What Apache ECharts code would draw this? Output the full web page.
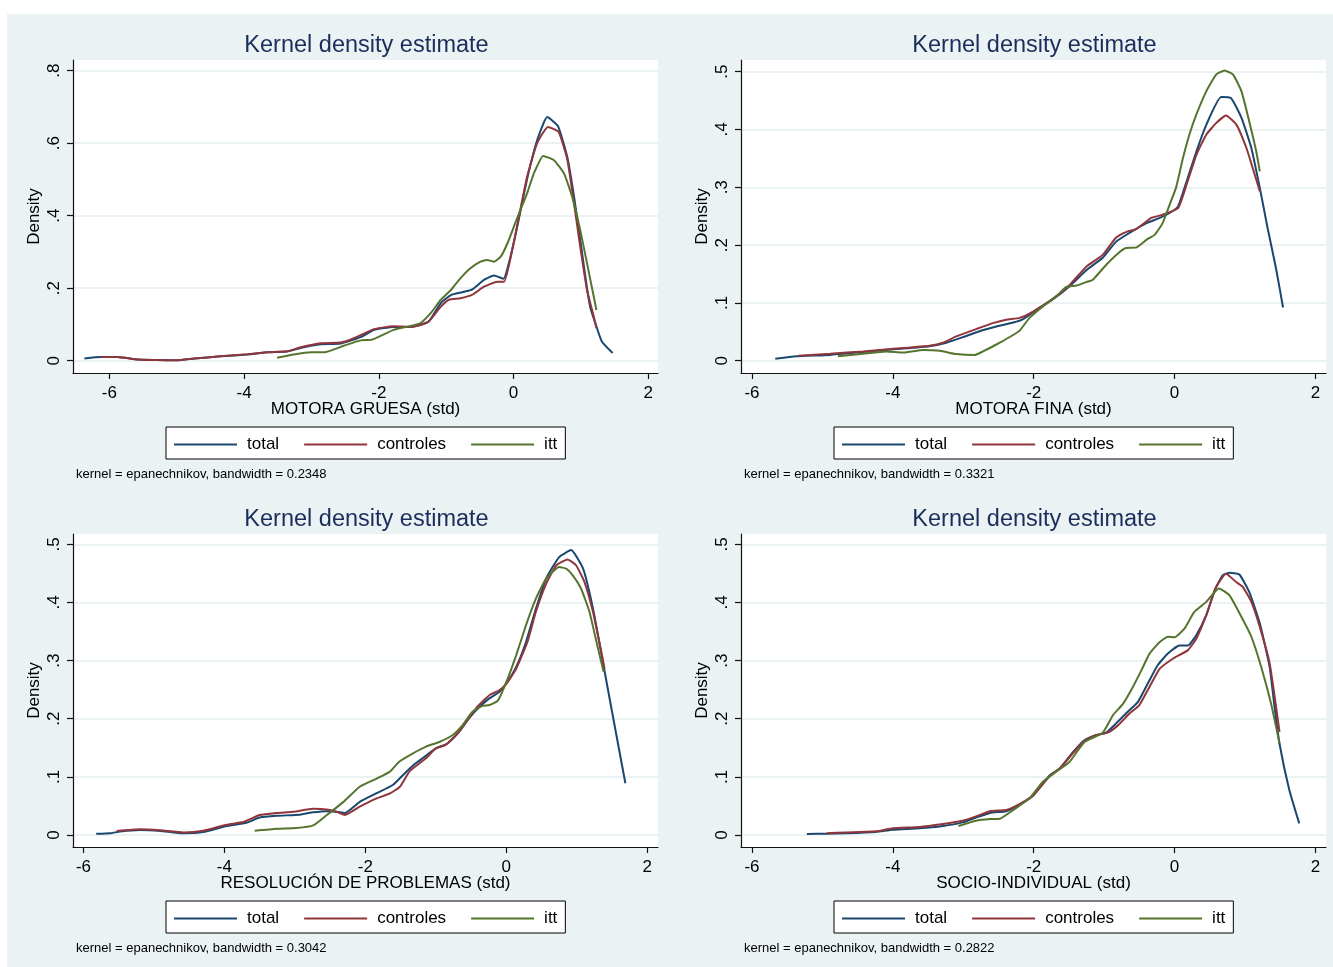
<!DOCTYPE html>
<html><head><meta charset="utf-8">
<script src="https://cdn.jsdelivr.net/npm/echarts@6/dist/echarts.min.js"></script>
<style>
html,body{margin:0;padding:0;background:#fff}
#bg{position:absolute;left:7px;top:14px;width:1326px;height:953px;background:#EAF2F3}
#c{position:absolute;left:0;top:0;width:1333px;height:967px}
</style>
</head><body><div id="bg"></div><div id="c"></div>
<script>
const seriesNames = ['total', 'controles', 'itt'];
const mainTitle = 'Kernel density estimate';
const xTitles = ['MOTORA GRUESA (std)', 'MOTORA FINA (std)', 'RESOLUCIÓN DE PROBLEMAS (std)', 'SOCIO-INDIVIDUAL (std)'];
const notes = ['kernel = epanechnikov, bandwidth = 0.2348', 'kernel = epanechnikov, bandwidth = 0.3321',
               'kernel = epanechnikov, bandwidth = 0.3042', 'kernel = epanechnikov, bandwidth = 0.2822'];
const xTicks = [-6, -4, -2, 0, 2];
const yTicksGruesa = [0, 0.2, 0.4, 0.6, 0.8];
const yTicksOther = [0, 0.1, 0.2, 0.3, 0.4, 0.5];

// MOTORA GRUESA
const gruesaTotal = [[-6.37,0.006],[-6.13,0.010],[-5.88,0.010],[-5.58,0.003],[-5.3,0.002],[-4.99,0.001],[-4.74,0.006],[-4.35,0.012],[-3.95,0.017],[-3.65,0.023],[-3.36,0.025],[-3.16,0.035],[-2.86,0.045],[-2.57,0.047],[-2.27,0.065],[-2.07,0.085],[-1.78,0.093],[-1.53,0.093],[-1.43,0.096],[-1.26,0.108],[-1.08,0.159],[-0.93,0.181],[-0.76,0.189],[-0.61,0.197],[-0.44,0.223],[-0.29,0.235],[-0.15,0.226],[-0.045,0.287],[0.055,0.37],[0.20,0.50],[0.35,0.608],[0.50,0.672],[0.66,0.647],[0.80,0.56],[0.90,0.45],[1.00,0.32],[1.09,0.20],[1.14,0.146],[1.22,0.10],[1.31,0.053],[1.47,0.021]];
const gruesaControles = [[-6.13,0.010],[-5.88,0.010],[-5.58,0.003],[-5.3,0.002],[-4.99,0.001],[-4.74,0.006],[-4.35,0.012],[-3.95,0.018],[-3.65,0.023],[-3.36,0.026],[-3.16,0.037],[-2.86,0.048],[-2.57,0.050],[-2.37,0.062],[-2.07,0.087],[-1.78,0.095],[-1.53,0.093],[-1.43,0.096],[-1.26,0.108],[-1.08,0.149],[-0.96,0.168],[-0.79,0.172],[-0.61,0.182],[-0.44,0.204],[-0.24,0.218],[-0.14,0.218],[-0.02,0.305],[0.08,0.397],[0.20,0.507],[0.35,0.60],[0.51,0.645],[0.67,0.631],[0.80,0.553],[0.89,0.443],[0.99,0.314],[1.09,0.195],[1.19,0.122],[1.23,0.09]];
const gruesaItt = [[-3.51,0.008],[-3.26,0.017],[-3.01,0.023],[-2.81,0.023],[-2.52,0.041],[-2.27,0.056],[-2.10,0.058],[-1.78,0.085],[-1.53,0.096],[-1.38,0.104],[-1.23,0.131],[-1.08,0.168],[-0.93,0.195],[-0.79,0.227],[-0.64,0.255],[-0.49,0.273],[-0.39,0.278],[-0.29,0.273],[-0.19,0.287],[-0.09,0.324],[0.005,0.37],[0.08,0.406],[0.20,0.461],[0.30,0.516],[0.44,0.565],[0.60,0.553],[0.75,0.516],[0.87,0.452],[0.99,0.36],[1.09,0.269],[1.23,0.14]];

// MOTORA FINA
const finaTotal = [[-5.67,0.0035],[-5.37,0.0075],[-4.89,0.010],[-4.42,0.015],[-3.95,0.020],[-3.48,0.025],[-3.24,0.031],[-3.00,0.041],[-2.77,0.051],[-2.53,0.059],[-2.29,0.066],[-2.15,0.072],[-1.96,0.088],[-1.73,0.106],[-1.49,0.129],[-1.25,0.157],[-1.02,0.178],[-0.83,0.206],[-0.64,0.221],[-0.40,0.238],[-0.21,0.247],[-0.07,0.2555],[0.05,0.267],[0.17,0.310],[0.31,0.362],[0.45,0.408],[0.66,0.456],[0.80,0.4545],[0.95,0.42],[1.09,0.368],[1.21,0.299],[1.32,0.23],[1.44,0.16],[1.54,0.092]];
const finaControles = [[-5.34,0.0087],[-4.89,0.012],[-4.42,0.016],[-3.95,0.021],[-3.48,0.026],[-3.29,0.031],[-3.10,0.042],[-2.81,0.055],[-2.58,0.065],[-2.39,0.071],[-2.20,0.074],[-2.01,0.085],[-1.73,0.107],[-1.49,0.131],[-1.25,0.163],[-1.02,0.183],[-0.83,0.213],[-0.69,0.2225],[-0.54,0.228],[-0.33,0.247],[-0.17,0.2525],[0.05,0.264],[0.17,0.3045],[0.31,0.356],[0.45,0.391],[0.59,0.411],[0.73,0.424],[0.88,0.408],[1.02,0.368],[1.11,0.333],[1.21,0.293]];
const finaItt = [[-4.78,0.0075],[-4.42,0.012],[-4.09,0.016],[-3.85,0.014],[-3.57,0.0185],[-3.33,0.017],[-3.10,0.0115],[-2.84,0.0098],[-2.72,0.016],[-2.53,0.028],[-2.34,0.041],[-2.20,0.052],[-2.06,0.074],[-1.87,0.094],[-1.68,0.111],[-1.54,0.1275],[-1.39,0.130],[-1.23,0.137],[-1.16,0.140],[-0.97,0.166],[-0.80,0.186],[-0.69,0.195],[-0.54,0.196],[-0.40,0.209],[-0.28,0.218],[-0.17,0.238],[-0.07,0.27],[0.02,0.299],[0.12,0.351],[0.21,0.391],[0.31,0.426],[0.45,0.466],[0.59,0.495],[0.71,0.502],[0.83,0.495],[0.95,0.466],[1.06,0.414],[1.16,0.362],[1.21,0.3275]];

// RESOLUCION DE PROBLEMAS
const resolTotal = [[-5.82,0.002],[-5.62,0.003],[-5.48,0.006],[-5.20,0.0086],[-4.91,0.007],[-4.58,0.003],[-4.30,0.005],[-3.97,0.0155],[-3.69,0.021],[-3.50,0.030],[-3.26,0.033],[-2.93,0.035],[-2.74,0.039],[-2.55,0.041],[-2.41,0.040],[-2.29,0.038],[-2.08,0.057],[-1.84,0.072],[-1.61,0.086],[-1.45,0.105],[-1.30,0.122],[-1.19,0.132],[-1.00,0.149],[-0.835,0.1575],[-0.67,0.1775],[-0.53,0.2005],[-0.38,0.2205],[-0.24,0.235],[-0.10,0.246],[0.0,0.2605],[0.14,0.289],[0.28,0.332],[0.42,0.389],[0.565,0.441],[0.75,0.478],[0.92,0.49],[1.09,0.458],[1.23,0.3895],[1.37,0.298],[1.51,0.206],[1.69,0.089]];
const resolControles = [[-5.53,0.0069],[-5.20,0.0098],[-4.91,0.008],[-4.58,0.0045],[-4.30,0.0074],[-3.97,0.0177],[-3.73,0.0223],[-3.50,0.0344],[-3.26,0.038],[-3.02,0.040],[-2.74,0.045],[-2.55,0.044],[-2.41,0.040],[-2.29,0.0344],[-2.08,0.0487],[-1.84,0.063],[-1.65,0.0716],[-1.51,0.083],[-1.37,0.110],[-1.14,0.132],[-1.00,0.149],[-0.86,0.155],[-0.67,0.1775],[-0.43,0.218],[-0.24,0.2405],[-0.10,0.249],[0.0,0.26],[0.14,0.286],[0.30,0.332],[0.42,0.384],[0.565,0.432],[0.71,0.464],[0.87,0.474],[0.99,0.464],[1.11,0.435],[1.23,0.384],[1.32,0.332],[1.395,0.286]];
const resolItt = [[-3.57,0.0074],[-3.26,0.0109],[-2.98,0.012],[-2.74,0.0166],[-2.55,0.034],[-2.31,0.057],[-2.08,0.083],[-1.84,0.097],[-1.65,0.109],[-1.52,0.126],[-1.33,0.140],[-1.14,0.152],[-0.95,0.160],[-0.76,0.172],[-0.62,0.189],[-0.48,0.212],[-0.34,0.222],[-0.24,0.2235],[-0.12,0.231],[0.0,0.263],[0.14,0.309],[0.28,0.361],[0.42,0.4065],[0.565,0.441],[0.75,0.461],[0.85,0.458],[0.94,0.447],[1.06,0.424],[1.18,0.384],[1.28,0.332],[1.38,0.281]];

// SOCIO-INDIVIDUAL
const socioTotal = [[-5.22,0.0017],[-4.94,0.0023],[-4.66,0.0029],[-4.24,0.0052],[-4.00,0.0092],[-3.62,0.0115],[-3.29,0.0155],[-3.01,0.0218],[-2.82,0.030],[-2.62,0.038],[-2.39,0.041],[-2.25,0.0487],[-2.01,0.0675],[-1.77,0.103],[-1.63,0.1145],[-1.44,0.143],[-1.28,0.163],[-1.11,0.172],[-0.97,0.176],[-0.83,0.192],[-0.69,0.209],[-0.52,0.229],[-0.38,0.2605],[-0.24,0.292],[-0.095,0.312],[0.07,0.326],[0.19,0.326],[0.31,0.344],[0.45,0.378],[0.57,0.421],[0.685,0.447],[0.78,0.451],[0.92,0.448],[1.06,0.418],[1.21,0.364],[1.35,0.289],[1.42,0.22],[1.49,0.157],[1.63,0.077],[1.77,0.020]];
const socioControles = [[-4.94,0.003],[-4.24,0.0063],[-4.00,0.0115],[-3.62,0.0138],[-3.29,0.019],[-3.01,0.0246],[-2.82,0.032],[-2.62,0.041],[-2.39,0.043],[-2.25,0.050],[-2.01,0.068],[-1.77,0.102],[-1.63,0.1145],[-1.30,0.160],[-1.11,0.172],[-0.95,0.176],[-0.80,0.189],[-0.64,0.209],[-0.50,0.2235],[-0.355,0.255],[-0.21,0.286],[-0.02,0.3036],[0.19,0.318],[0.31,0.338],[0.45,0.378],[0.59,0.4265],[0.73,0.4495],[0.875,0.435],[0.97,0.4265],[1.09,0.401],[1.21,0.358],[1.35,0.295],[1.49,0.1775]];
const socioItt = [[-3.07,0.0155],[-2.82,0.0246],[-2.62,0.0275],[-2.48,0.028],[-2.29,0.043],[-2.06,0.063],[-1.87,0.0916],[-1.68,0.109],[-1.49,0.126],[-1.28,0.160],[-1.02,0.176],[-0.875,0.206],[-0.73,0.226],[-0.59,0.255],[-0.47,0.2835],[-0.355,0.312],[-0.21,0.332],[-0.095,0.341],[0.0,0.340],[0.14,0.355],[0.28,0.3837],[0.45,0.401],[0.63,0.424],[0.78,0.412],[0.95,0.375],[1.09,0.341],[1.23,0.289],[1.37,0.226],[1.49,0.1575]];

const panelData = [
  [gruesaTotal, gruesaControles, gruesaItt],
  [finaTotal, finaControles, finaItt],
  [resolTotal, resolControles, resolItt],
  [socioTotal, socioControles, socioItt]
];
const panelYTicks = [yTicksGruesa, yTicksOther, yTicksOther, yTicksOther];

// layout / style
const FONT = '"Liberation Sans", Arial, Helvetica, sans-serif';
const colors = ['#1A476F', '#90353B', '#55752F'];
const grids = [
  {left: 73, top: 60, width: 585, height: 313},
  {left: 741, top: 60, width: 585, height: 313},
  {left: 73, top: 534, width: 585, height: 313},
  {left: 741, top: 534, width: 585, height: 313}
];
const xRanges = [[-6.539, 2.144], [-6.156, 2.15], [-6.149, 2.153], [-6.156, 2.15]];
const yRanges = [[-0.034, 0.8295], [-0.0213, 0.5202], [-0.0206, 0.5177], [-0.0206, 0.5177]];

const yFmt = v => {
  if (Math.abs(v) < 1e-9) return '0';
  return String(+v.toFixed(1)).replace(/^0\./, '.');
};

const option = {
  animation: false,
  backgroundColor: 'transparent',
  textStyle: {fontFamily: FONT},
  title: [].concat(
    grids.map(g => ({
      text: mainTitle, left: g.left + g.width / 2 + 1, textAlign: 'center', top: g.top - 26, padding: 0,
      textStyle: {fontSize: 23.5, fontWeight: 'normal', color: '#1c2d5c', fontFamily: FONT}
    })),
    grids.map((g, i) => ({
      text: notes[i], left: g.left + 3, top: g.top + 408, padding: 0,
      textStyle: {fontSize: 13, fontWeight: 'normal', color: '#000', fontFamily: FONT}
    }))
  ),
  legend: grids.map(g => ({
    data: seriesNames, left: g.left + 93, top: g.top + 367, orient: 'horizontal',
    icon: 'rect', itemWidth: 63, itemHeight: 2, itemGap: 25,
    padding: [9, 8, 6, 8], borderColor: '#000', borderWidth: 1, backgroundColor: '#fff', borderRadius: 0,
    selectedMode: false,
    textStyle: {fontSize: 17, color: '#000', padding: [0, 0, 0, 5], fontFamily: FONT}
  })),
  grid: grids.map(g => Object.assign({show: true, backgroundColor: '#fff', borderWidth: 0, containLabel: false}, g)),
  xAxis: grids.map((g, i) => ({
    gridIndex: i, type: 'value', min: xRanges[i][0], max: xRanges[i][1],
    name: xTitles[i], nameLocation: 'middle', nameGap: 28, nameMoveOverlap: false,
    nameTextStyle: {fontSize: 17, color: '#000', fontFamily: FONT},
    axisLine: {show: true, onZero: false, lineStyle: {color: '#111', width: 1.2}},
    axisTick: {show: true, length: 6, customValues: xTicks, lineStyle: {color: '#111', width: 1.2}},
    axisLabel: {customValues: xTicks, fontSize: 17, color: '#000', margin: 12, fontFamily: FONT, formatter: v => String(v)},
    splitLine: {show: false}
  })),
  yAxis: grids.map((g, i) => ({
    gridIndex: i, type: 'value', min: yRanges[i][0], max: yRanges[i][1],
    name: 'Density', nameLocation: 'middle', nameGap: 30, nameRotate: 90, nameMoveOverlap: false,
    nameTextStyle: {fontSize: 17, color: '#000', fontFamily: FONT},
    axisLine: {show: true, onZero: false, lineStyle: {color: '#111', width: 1.2}},
    axisTick: {show: true, length: 6, customValues: panelYTicks[i], lineStyle: {color: '#111', width: 1.2}},
    axisLabel: {customValues: panelYTicks[i], rotate: 90, fontSize: 17, color: '#000', margin: 10, fontFamily: FONT, formatter: yFmt},
    splitLine: {show: true, lineStyle: {color: '#EAF2F3', width: 2}}
  })),
  series: []
};

panelData.forEach((sets, i) => {
  sets.forEach((d, k) => {
    option.series.push({
      type: 'line', name: seriesNames[k], xAxisIndex: i, yAxisIndex: i,
      data: d, symbol: 'none', showSymbol: false, smooth: 0.15, silent: true,
      color: colors[k], itemStyle: {color: colors[k]},
      lineStyle: {color: colors[k], width: 2}, z: 2 + k
    });
  });
});

const chart = echarts.init(document.getElementById('c'), null, {renderer: 'canvas'});
chart.setOption(option);
</script>
</body></html>
